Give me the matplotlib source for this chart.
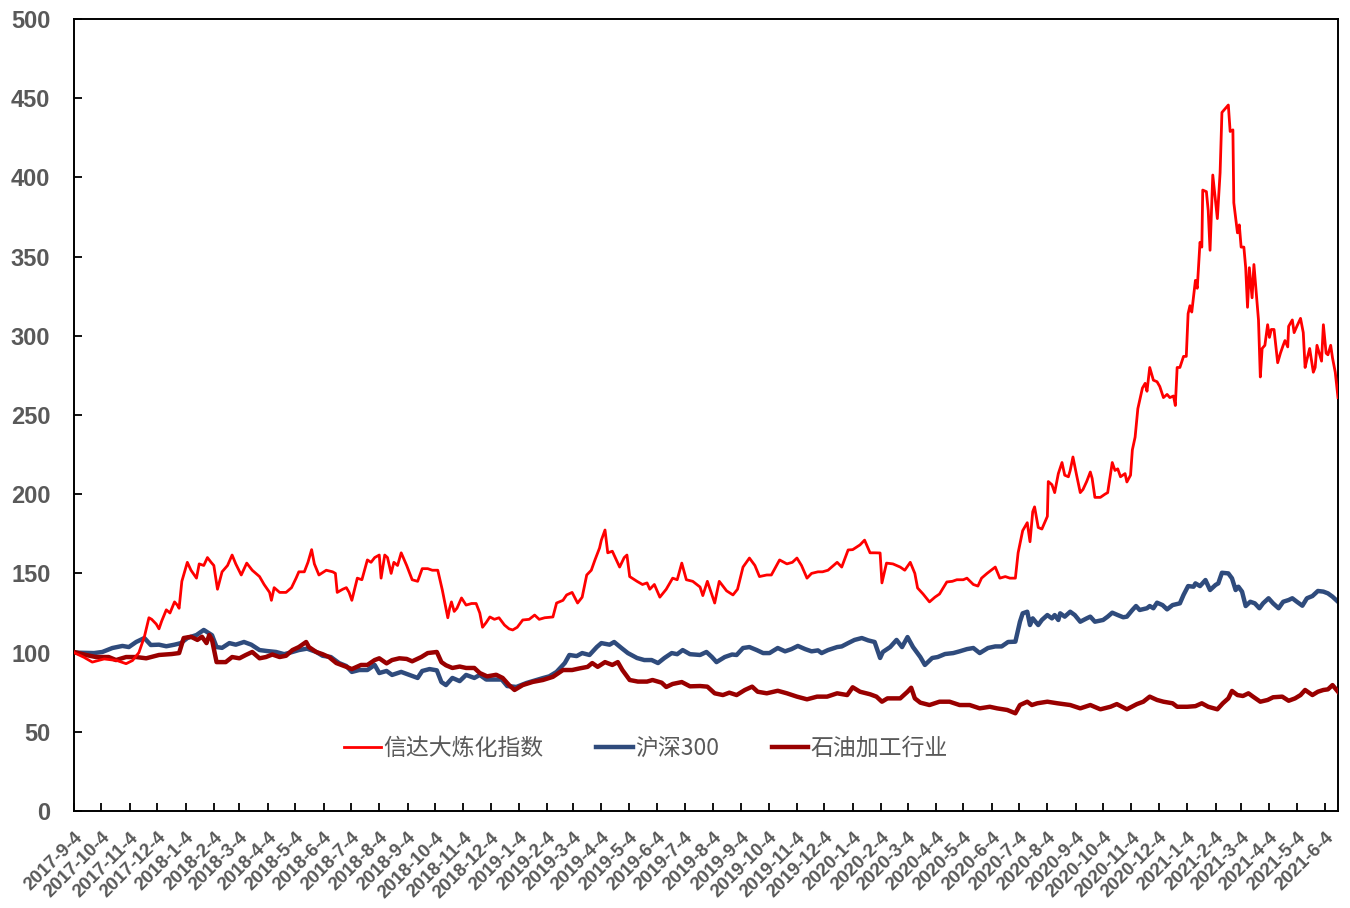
import matplotlib
matplotlib.use("Agg")
import matplotlib.pyplot as plt
from matplotlib.font_manager import FontProperties
import pandas as pd

start = pd.Timestamp("2017-09-04")
end = pd.Timestamp("2021-06-18")

# (days since 2017-09-04, index value)
xinda = [
    (0, 100), (11, 97), (20, 94), (33, 96), (47, 95), (57, 93), (64, 95), (71, 100), (77, 110), (82, 122),
    (85, 121), (90, 118), (93, 115), (96, 120), (101, 127), (105, 125), (110, 132), (113, 130), (115, 128), (118, 145),
    (124, 157), (128, 152), (134, 147), (137, 156), (142, 155), (146, 160), (150, 157), (153, 155), (157, 140), (162, 151),
    (168, 155), (173, 161.6), (177, 156), (183, 149), (189, 156.5), (195, 152), (203, 148), (208, 143), (214, 138), (216, 133),
    (219, 141), (225, 138), (232, 138), (238, 141), (243, 147), (246, 151), (252, 151), (256, 157), (260, 165), (263, 156),
    (268, 149), (276, 152), (283, 151), (286, 150), (288, 138), (294, 140), (298, 141), (301, 138), (304, 133), (310, 147),
    (315, 146), (321, 158.5), (325, 157), (329, 160), (334, 161.6), (336, 147), (340, 161.6), (343, 160), (347, 150), (350, 157),
    (354, 155), (358, 163), (364, 155), (370, 146), (376, 145), (381, 153), (387, 153), (392, 152), (398, 152), (403, 139.5),
    (409, 122), (411, 128), (413, 132), (416, 126), (419, 128), (424, 134.5), (429, 130), (435, 131), (440, 131), (444, 125),
    (447, 116), (451, 119), (455, 122.5), (460, 121), (465, 122), (471, 117.4), (476, 115), (480, 114.3), (485, 116), (491, 120.6),
    (498, 121), (504, 123.7), (509, 121), (515, 122), (524, 122.5), (528, 131.3), (535, 133), (539, 136.4), (545, 138), (551, 131.3),
    (556, 135), (561, 149), (566, 152), (570, 158.5), (575, 166), (577, 171), (581, 177.4), (584, 163), (589, 164), (597, 154),
    (602, 160), (605, 161.6), (608, 148), (616, 145), (622, 143), (627, 144), (630, 140), (635, 143), (641, 135), (648, 140),
    (655, 147), (660, 146), (665, 156.5), (670, 146), (677, 145), (685, 141.4), (688, 136), (693, 145), (701, 131.3), (706, 145),
    (714, 139), (721, 136.4), (726, 140), (732, 154), (739, 159.7), (745, 155), (750, 148), (758, 149), (763, 149), (772, 158.5),
    (780, 156), (786, 157), (791, 159.7), (796, 155), (802, 147), (807, 150), (814, 151), (819, 151), (825, 152), (835, 157),
    (840, 154), (847, 164.8), (852, 165), (860, 168), (865, 171), (871, 163), (876, 163), (882, 162.9), (884, 144), (889, 156.5),
    (896, 156), (904, 154), (909, 152), (915, 157), (920, 150), (923, 140.8), (929, 137), (936, 132), (942, 135), (947, 137),
    (955, 144.6), (961, 145), (966, 146), (973, 146), (977, 147), (984, 143), (989, 142), (993, 147), (999, 150), (1008, 154),
    (1013, 147), (1019, 148), (1024, 147), (1030, 147), (1033, 163), (1038, 177), (1043, 182), (1046, 170), (1049, 189), (1051, 192),
    (1055, 179), (1059, 178), (1065, 186), (1066, 208), (1070, 206), (1073, 201), (1077, 213), (1081, 220), (1084, 212), (1088, 211),
    (1090, 215), (1093, 223.5), (1097, 212), (1101, 201), (1104, 203), (1108, 208), (1112, 214), (1114, 210), (1117, 198), (1123, 198),
    (1128, 200), (1131, 201), (1136, 220), (1139, 215), (1142, 216), (1145, 211), (1150, 213), (1152, 207.7), (1156, 212), (1158, 228),
    (1161, 236), (1164, 254), (1169, 267), (1172, 270), (1174, 265), (1177, 280), (1181, 272), (1185, 271), (1188, 268), (1192, 261),
    (1196, 263), (1199, 261), (1203, 262), (1205, 256), (1207, 280), (1210, 280), (1214, 287), (1217, 287), (1219, 314), (1221, 319),
    (1223, 315), (1227, 335), (1229, 330), (1232, 359), (1234, 356), (1235, 392), (1239, 391), (1241, 379), (1243, 354), (1246, 401.5),
    (1251, 374), (1254, 403), (1256, 441), (1263, 445.7), (1265, 429), (1268, 430), (1269, 384), (1273, 365), (1275, 370), (1277, 356),
    (1280, 356), (1282, 343), (1284, 318), (1286, 343), (1289, 324), (1291, 345), (1294, 324), (1296, 310), (1298, 274), (1300, 292),
    (1303, 294), (1306, 307), (1308, 299), (1310, 304), (1313, 304), (1317, 283), (1320, 289), (1323, 294), (1325, 297), (1328, 293),
    (1329, 306), (1333, 310), (1335, 302), (1338, 306), (1342, 311), (1345, 302), (1347, 280), (1349, 285), (1352, 292), (1356, 277),
    (1358, 280), (1360, 294), (1365, 284), (1367, 307), (1370, 289), (1372, 288), (1375, 294), (1377, 286), (1380, 277), (1383, 261),
]

hs300 = [
    (0, 100), (22, 99.7), (31, 100.4), (42, 102.9), (53, 104.2), (60, 103.5), (68, 106.7), (77, 109.2), (84, 104.8), (93, 105),
    (101, 104), (110, 105), (117, 106), (124, 109.2), (134, 111.1), (142, 114.3), (151, 111), (156, 103.5), (162, 103), (170, 106),
    (177, 105), (186, 106.7), (194, 105), (203, 101.6), (211, 101), (221, 100.4), (230, 99), (239, 100.4), (246, 101.6), (255, 102.5),
    (265, 100.4), (272, 98), (281, 97.2), (290, 93.4), (298, 91.5), (304, 87.8), (312, 89), (321, 89), (329, 92.2), (334, 87.1),
    (342, 88.4), (348, 85.9), (358, 87.8), (367, 85.9), (376, 84), (381, 88.4), (389, 89.6), (397, 88.8), (402, 81.4), (407, 79.5),
    (414, 84), (422, 82), (429, 85.9), (438, 84), (444, 85.9), (451, 83), (460, 83), (468, 83), (474, 78.9), (484, 78.3),
    (495, 80.8), (506, 82.7), (513, 83.9), (520, 85), (528, 87.8), (537, 93.4), (542, 98.5), (550, 97.8), (556, 99.7), (564, 98.5),
    (572, 103.5), (577, 106), (586, 105), (591, 106.7), (599, 102.9), (606, 99.7), (616, 96.6), (624, 95.3), (632, 95.3), (639, 93.4),
    (646, 96.6), (654, 99.7), (660, 99), (666, 101.6), (674, 99), (685, 98.5), (692, 100.4), (698, 97.2), (703, 94), (712, 97.2),
    (720, 98.8), (725, 98.5), (732, 102.9), (739, 103.5), (747, 101.6), (754, 99.7), (761, 99.7), (770, 102.9), (778, 100.8), (785, 102.2),
    (792, 104.2), (800, 102.2), (807, 100.8), (814, 101.4), (818, 99.7), (825, 101.6), (835, 103.5), (840, 103.9), (847, 106), (854, 108),
    (862, 109.2), (869, 107.7), (876, 106.7), (882, 96.6), (885, 100.4), (893, 103.5), (900, 108), (906, 103.5), (912, 109.8), (918, 103.5),
    (926, 97.2), (931, 92.2), (939, 96.6), (945, 97.2), (953, 99.1), (962, 99.7), (969, 100.8), (977, 102.2), (984, 102.9), (991, 99.7),
    (1000, 102.9), (1008, 103.9), (1015, 103.9), (1022, 106.7), (1030, 106.9), (1035, 119.5), (1038, 124.8), (1043, 125.8), (1046, 117.4), (1049, 121.6),
    (1055, 117.4), (1059, 120.6), (1065, 123.7), (1070, 121.6), (1073, 123.7), (1077, 120.6), (1079, 124.8), (1084, 122.7), (1090, 125.8), (1095, 123.7),
    (1101, 119.5), (1108, 121.6), (1112, 122.7), (1117, 119.5), (1126, 120.6), (1131, 122.7), (1136, 125.2), (1142, 123.7), (1148, 122.3), (1152, 122.7),
    (1158, 126.9), (1162, 129.4), (1166, 126.9), (1174, 128), (1177, 129.4), (1181, 128), (1185, 131.5), (1191, 130), (1196, 127.3), (1202, 130),
    (1210, 131.1), (1214, 136.4), (1219, 142), (1225, 141.6), (1227, 143.7), (1232, 142), (1238, 145.8), (1243, 139.5), (1249, 142.7), (1252, 143.7),
    (1256, 150.4), (1263, 150), (1267, 146.9), (1271, 139.5), (1274, 141.6), (1278, 138.5), (1282, 129.4), (1287, 132.1), (1292, 131.1), (1297, 128),
    (1301, 131.1), (1307, 134.3), (1312, 131.1), (1318, 128), (1323, 132.1), (1329, 133.2), (1333, 134.3), (1338, 132.1), (1344, 129.6), (1349, 134.3),
    (1355, 135.7), (1361, 138.9), (1367, 138.5), (1372, 137.4), (1377, 135.3), (1383, 132.1),
]

oil = [
    (0, 100.4), (13, 98.5), (24, 97.2), (38, 97.2), (46, 95.3), (57, 97.2), (68, 97.2), (79, 96.4), (93, 98.5), (107, 99.1),
    (115, 99.7), (120, 109.2), (128, 110), (135, 108), (140, 110), (145, 106), (148, 111.1), (151, 108), (156, 94), (166, 94),
    (173, 97.2), (181, 96.4), (188, 98.5), (195, 100.4), (203, 96.4), (210, 97.2), (217, 98.8), (225, 97.2), (232, 98), (239, 101.6),
    (246, 103.5), (254, 106.7), (257, 103.5), (265, 100.4), (272, 99), (279, 97.2), (287, 93.4), (298, 91), (304, 89.6), (314, 92.2),
    (321, 92.2), (329, 95.3), (334, 96.4), (342, 93.2), (348, 95.3), (356, 96.4), (364, 96), (370, 94.5), (380, 97.2), (387, 99.7),
    (397, 100.4), (402, 94), (407, 92), (414, 90.3), (422, 91.2), (429, 90.3), (438, 90.3), (444, 87.1), (452, 85), (462, 86),
    (469, 84), (476, 79.5), (482, 76.4), (491, 79.5), (502, 81.5), (513, 82.7), (524, 84.7), (535, 89), (545, 89), (553, 90),
    (562, 91), (567, 93.4), (573, 91), (581, 94), (589, 92.2), (595, 94), (600, 89), (608, 82.7), (617, 81.7), (627, 81.7),
    (633, 82.7), (643, 81), (648, 78.3), (655, 80.2), (665, 81.4), (674, 78.7), (685, 78.9), (693, 78.5), (701, 74.3), (710, 73.2),
    (717, 74.7), (725, 73.2), (734, 76.4), (742, 78.5), (748, 75.3), (758, 74.3), (770, 75.9), (780, 74.3), (791, 72.2), (802, 70.5),
    (813, 72.2), (824, 72.2), (835, 74.3), (846, 73.2), (852, 78.1), (860, 75.3), (871, 73.7), (878, 72.2), (884, 69), (890, 71.1),
    (904, 71.1), (912, 75.3), (916, 77.8), (920, 71.1), (926, 68.4), (936, 66.9), (947, 69), (958, 69), (969, 66.9), (980, 66.9),
    (991, 64.8), (1002, 65.8), (1010, 64.8), (1021, 63.8), (1030, 61.7), (1035, 66.9), (1043, 69), (1048, 66.9), (1054, 68), (1065, 69),
    (1076, 68), (1090, 66.9), (1101, 64.8), (1112, 66.9), (1123, 64.2), (1134, 65.8), (1141, 67.5), (1152, 64.2), (1163, 67.5), (1170, 69),
    (1177, 72.2), (1185, 70.1), (1192, 69), (1202, 68), (1207, 65.8), (1218, 65.8), (1227, 66.2), (1234, 68), (1241, 65.8), (1251, 64.2),
    (1257, 68), (1263, 71.1), (1267, 75.8), (1273, 73.2), (1279, 72.6), (1285, 74.3), (1290, 72.2), (1298, 69), (1306, 70.1), (1312, 71.8),
    (1322, 72.2), (1329, 69.6), (1336, 71.1), (1342, 73.2), (1347, 76.4), (1355, 73.2), (1361, 75.3), (1367, 76.4), (1372, 76.8), (1377, 79.5),
    (1383, 75.3),
]

names = ["信达大炼化指数", "沪深300", "石油加工行业"]
colors = ["#FF0000", "#2F4B7C", "#990000"]
widths = [2.0, 3.2, 3.2]
y_ticks = list(range(0, 501, 50))
months = pd.date_range("2017-09-01", "2021-06-01", freq="MS") + pd.Timedelta(days=3)


def to_xy(pairs):
    days = pd.to_timedelta([p[0] for p in pairs], unit="D")
    return start + days, [p[1] for p in pairs]


fig = plt.figure(figsize=(13.5, 9.08), dpi=100)
ax = fig.add_axes([74 / 1350, 1 - 811 / 908, 1264 / 1350, 792 / 908])

lines = []
for series, name, c, lw, z in zip([xinda, hs300, oil], names, colors, widths, [4, 2, 3]):
    x, y = to_xy(series)
    ln, = ax.plot(x, y, color=c, lw=lw, label=name, zorder=z)
    lines.append(ln)

ax.set_xlim(start, end)
ax.set_ylim(0, 500)
ax.set_yticks(y_ticks)
ax.set_xticks(months)
ax.set_xticklabels([f"{d.year}-{d.month}-{d.day}" for d in months],
                   rotation=45, ha="right", va="top", rotation_mode="anchor")

tick_font = FontProperties(family=["Liberation Sans", "DejaVu Sans"], weight="bold", size=13.5)
for lab in ax.get_xticklabels():
    lab.set_fontproperties(tick_font)
    lab.set_color("#595959")
ytick_font = FontProperties(family=["Liberation Sans", "DejaVu Sans"], weight="bold", size=17)
for lab in ax.get_yticklabels():
    lab.set_fontproperties(ytick_font)
    lab.set_color("#595959")

ax.tick_params(axis="both", direction="in", length=6, width=1.3, color="black")
ax.tick_params(axis="x", pad=13)
ax.tick_params(axis="y", pad=17)
for s in ax.spines.values():
    s.set_linewidth(1.4)
    s.set_color("black")

leg = ax.legend(handles=lines, loc="center", bbox_to_anchor=(0.4525, 0.0795), ncol=3,
                frameon=False, prop=FontProperties(family=["Noto Sans CJK SC", "DejaVu Sans"], size=16.5),
                handlelength=1.6, handletextpad=0.1, columnspacing=2.3)
for t in leg.get_texts():
    t.set_color("#595959")

fig.savefig("out.png", dpi=100)
